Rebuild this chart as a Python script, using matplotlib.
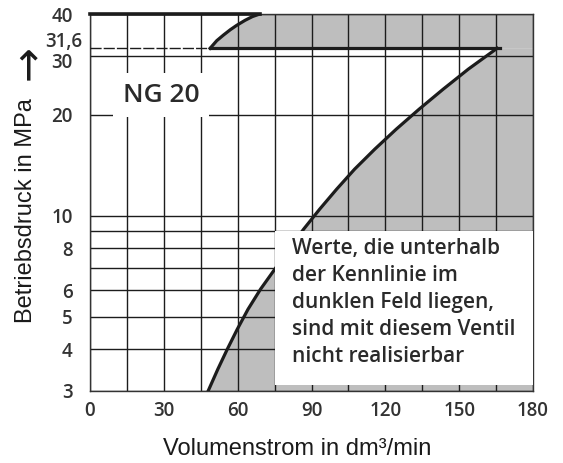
import matplotlib
matplotlib.use("Agg")
import matplotlib.pyplot as plt
import matplotlib.transforms as mtransforms
from matplotlib.patches import Rectangle
from matplotlib.ticker import NullLocator

# Kennlinie NG 20
lower_x = [48.0, 51.9, 55.8, 59.8, 64.2, 69.3, 75.1, 80.9, 86.8, 93.3, 100.2,
           107.5, 115.7, 124.4, 133.7, 143.5, 153.7, 165.4]
lower_y = [3.0, 3.48, 4.0, 4.58, 5.26, 6.04, 6.93, 7.95, 9.12, 10.46, 12.0,
           13.77, 15.8, 18.12, 20.79, 23.86, 27.38, 31.6]
upper_x = [48.8, 51.5, 54.2, 57.0, 59.6, 63.0, 66.0, 69.0]
upper_y = [31.6, 33.3, 34.6, 35.9, 37.0, 38.3, 39.3, 40.0]
p_limit = 31.6
p_max = 40
q_max = 180

x_ticks = list(range(0, 181, 15))
x_labels = [str(v) if v % 30 == 0 else "" for v in x_ticks]
y_ticks = [3, 4, 5, 6, 7, 8, 9, 10, 20, 30, 40]
y_labels = ["3", "4", "5", "6", "", "8", "", "10", "20", "30", "40"]

note = ("Werte, die unterhalb\nder Kennlinie im\ndunklen Feld liegen,\n"
        "sind mit diesem Ventil\nnicht realisierbar")

gray = "#bebebe"
ink = "#1c1c1c"
tick_font = "Open Sans"
label_font = ["Liberation Sans", "DejaVu Sans"]

fig = plt.figure(figsize=(5.63, 4.63), dpi=100)
ax = fig.add_axes([90 / 563, 1 - 391 / 463, 443 / 563, 377 / 463])
ax.set_yscale("log")
ax.set_xlim(0, q_max)
ax.set_ylim(3, p_max)

# dark (not realisable) fields
ax.fill_betweenx(lower_y, lower_x, q_max, color=gray, lw=0, zorder=1)
ax.fill_betweenx(upper_y, upper_x, q_max, color=gray, lw=0, zorder=1)

ax.set_xticks(x_ticks)
ax.set_xticklabels(x_labels)
ax.set_yticks(y_ticks)
ax.set_yticklabels(y_labels)
ax.yaxis.set_minor_locator(NullLocator())
ax.grid(True, color=ink, lw=1.0)
for gl in ax.get_xgridlines() + ax.get_ygridlines():
    gl.set_zorder(2)
ax.tick_params(length=0, labelsize=13.5, labelcolor="#333333")
ax.tick_params(axis="x", pad=7)
ax.tick_params(axis="y", pad=12.5)
for lab in ax.get_xticklabels() + ax.get_yticklabels():
    lab.set_family(tick_font)
    lab.set_weight("semibold")
for s in ax.spines.values():
    s.set_color("#333333")
    s.set_linewidth(1.0)

# the "30" label sits a little below its line, leaving room for "31,6"
lab30 = ax.get_yticklabels()[y_ticks.index(30)]
lab30.set_transform(lab30.get_transform()
                    + mtransforms.ScaledTranslation(0, -3.5 / 72, fig.dpi_scale_trans))

# white note box over the lower right corner
ax.add_patch(Rectangle((75.2, 3.12), q_max - 75.2, 9 - 3.12, facecolor="white",
                       edgecolor="none", zorder=3))

# characteristic curves
ax.plot(lower_x, lower_y, color=ink, lw=2.3, zorder=2.5)
ax.plot(upper_x, upper_y, color=ink, lw=2.3, zorder=4)
ax.plot([upper_x[0], lower_x[-1] + 1.2], [p_limit, p_limit], color=ink, lw=2.3, zorder=4)
ax.plot([0, upper_x[-1]], [p_max, p_max], color=ink, lw=2.6, zorder=4, clip_on=False)
ax.plot([0, upper_x[0]], [p_limit, p_limit], color=ink, lw=1.0, ls=(0, (8, 1.5)), zorder=4)

ax.annotate("31,6", xy=(0, p_limit), xycoords=("axes fraction", "data"),
            xytext=(-5.8, 4.5), textcoords="offset points", ha="right", va="center",
            fontsize=13.5, family=tick_font, weight="semibold", color="#333333")

ax.text(29, 22.9, "NG 20", ha="center", va="center", fontsize=19, family=tick_font,
        weight="semibold", color="#2a2a2a", zorder=5,
        bbox=dict(facecolor="white", edgecolor="none", pad=7))

ax.text(82, 8.6, note, ha="left", va="top", fontsize=15, family=tick_font,
        weight="semibold", color="#2a2a2a", linespacing=1.38, zorder=5)

fig.text(297 / 563, 1 - 449 / 463, "Volumenstrom in dm\u00b3/min", ha="center", va="center",
         fontsize=17, family=label_font, color="#1a1a1a")
fig.text(26 / 563, 1 - 211 / 463, "Betriebsdruck in MPa", rotation=90, ha="center",
         va="center", fontsize=17, family=label_font, color="#1a1a1a")
fig.text(28 / 563, 1 - 63 / 463, "\u2192", rotation=90, ha="center", va="center",
         fontsize=30, family="DejaVu Sans", color="#1a1a1a")

fig.savefig("out.png", dpi=100)
